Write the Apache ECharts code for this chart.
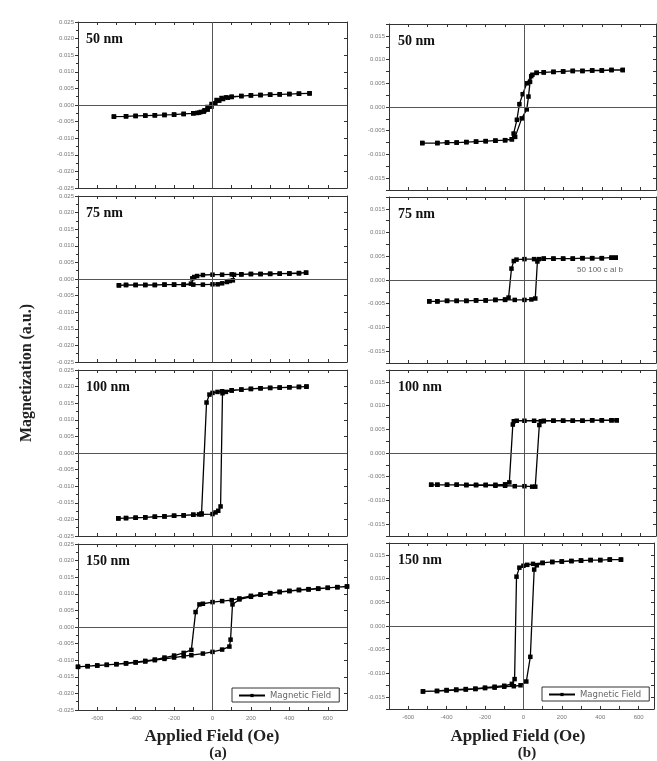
<!DOCTYPE html>
<html>
<head>
<meta charset="utf-8">
<script src="https://cdn.jsdelivr.net/npm/echarts@6/dist/echarts.min.js"></script>
<style>
  html, body { margin: 0; padding: 0; background: #fff; }
  #chart { width: 657px; height: 761px; }
</style>
</head>
<body>
<div id="chart"></div>
<script>
// each loop: field swept down from +H to -H, then back up (Oe, a.u.)
const a50H = [505, 450, 400, 350, 300, 250, 200, 150, 100, 70, 47, 21, -5, -26, -42, -60, -80, -100, -150, -200, -250, -300, -350, -400, -450, -513,
              -513, -450, -400, -350, -300, -250, -200, -150, -100, -70, -45, -25, -5, 15, 35, 55, 80, 100, 150, 200, 250, 300, 350, 400, 450, 505];
const a50M = [0.0035, 0.0034, 0.0033, 0.0032, 0.0031, 0.0030, 0.0029, 0.0027, 0.0025, 0.0023, 0.0021, 0.0015, 0.0003, -0.0006, -0.0016, -0.0021, -0.0024, -0.0025, -0.0027, -0.0029, -0.0030, -0.0031, -0.0032, -0.0033, -0.0034, -0.0035,
              -0.0035, -0.0034, -0.0033, -0.0032, -0.0031, -0.0030, -0.0029, -0.0027, -0.0025, -0.0023, -0.0020, -0.0014, -0.0005, 0.0005, 0.0013, 0.0018, 0.0022, 0.0024, 0.0027, 0.0029, 0.0030, 0.0031, 0.0032, 0.0033, 0.0034, 0.0035];

const a75H = [487, 450, 400, 350, 300, 250, 200, 150, 100, 50, 0, -50, -80, -95, -105, -112, -150, -200, -250, -300, -350, -400, -450, -487,
              -487, -450, -400, -350, -300, -250, -200, -150, -100, -50, 0, 27, 50, 75, 90, 106, 112, 150, 200, 250, 300, 350, 400, 450, 487];
const a75M = [0.0019, 0.0017, 0.0016, 0.0016, 0.0015, 0.0015, 0.0015, 0.0014, 0.0014, 0.0013, 0.0013, 0.0012, 0.0009, 0.0006, 0.0002, -0.0014, -0.0017, -0.0017, -0.0017, -0.0018, -0.0018, -0.0018, -0.0018, -0.0019,
              -0.0019, -0.0018, -0.0018, -0.0018, -0.0018, -0.0017, -0.0017, -0.0017, -0.0017, -0.0017, -0.0016, -0.0016, -0.0013, -0.0009, -0.0006, -0.0004, 0.0013, 0.0014, 0.0015, 0.0015, 0.0016, 0.0016, 0.0017, 0.0018, 0.0019];

const a100H = [489, 450, 400, 350, 300, 250, 200, 150, 100, 50, 26, 0, -16, -31, -57, -70, -100, -150, -200, -250, -300, -350, -400, -450, -490,
               -490, -450, -400, -350, -300, -250, -200, -150, -100, -57, 0, 16, 30, 42, 52, 70, 100, 150, 200, 250, 300, 350, 400, 450, 489];
const a100M = [0.0200, 0.0199, 0.0198, 0.0197, 0.0196, 0.0195, 0.0193, 0.0191, 0.0189, 0.0186, 0.0184, 0.0181, 0.0176, 0.0152, -0.0182, -0.0185, -0.0186, -0.0188, -0.0189, -0.0191, -0.0192, -0.0194, -0.0195, -0.0196, -0.0197,
               -0.0197, -0.0196, -0.0195, -0.0194, -0.0192, -0.0191, -0.0189, -0.0188, -0.0186, -0.0185, -0.0184, -0.0179, -0.0174, -0.0161, 0.0180, 0.0184, 0.0188, 0.0191, 0.0193, 0.0195, 0.0196, 0.0197, 0.0198, 0.0199, 0.0200];

const a150H = [700, 650, 600, 550, 500, 450, 400, 350, 300, 250, 200, 140, 100, 50, 0, -50, -68, -88, -110, -150, -200, -250, -300, -350, -400, -450, -500, -550, -600, -650, -700,
               -700, -650, -600, -550, -500, -450, -400, -350, -300, -250, -200, -150, -110, -50, 0, 50, 88, 94, 104, 140, 200, 250, 300, 350, 400, 450, 500, 550, 600, 650, 700];
const a150M = [0.0122, 0.0120, 0.0118, 0.0116, 0.0114, 0.0112, 0.0109, 0.0106, 0.0102, 0.0098, 0.0094, 0.0086, 0.0081, 0.0078, 0.0075, 0.0070, 0.0068, 0.0045, -0.0069, -0.0078, -0.0086, -0.0092, -0.0098, -0.0102, -0.0106, -0.0109, -0.0112, -0.0114, -0.0116, -0.0118, -0.0120,
               -0.0120, -0.0118, -0.0116, -0.0114, -0.0112, -0.0110, -0.0107, -0.0104, -0.0100, -0.0096, -0.0092, -0.0088, -0.0085, -0.0080, -0.0075, -0.0068, -0.0059, -0.0038, 0.0068, 0.0083, 0.0091, 0.0097, 0.0101, 0.0105, 0.0108, 0.0111, 0.0113, 0.0115, 0.0118, 0.0120, 0.0122];

const b50H = [508, 450, 400, 350, 300, 250, 200, 150, 100, 63, 35, 12, -9, -26, -39, -56, -65, -100, -150, -200, -250, -300, -350, -400, -450, -528,
              -528, -450, -400, -350, -300, -250, -200, -150, -100, -65, -48, -14, 12, 21, 29, 41, 63, 100, 150, 200, 250, 300, 350, 400, 450, 508];
const b50M = [0.0078, 0.0078, 0.0077, 0.0077, 0.0076, 0.0076, 0.0075, 0.0074, 0.0073, 0.0072, 0.0065, 0.0050, 0.0027, 0.0006, -0.0027, -0.0056, -0.0068, -0.0070, -0.0071, -0.0072, -0.0073, -0.0074, -0.0075, -0.0075, -0.0076, -0.0076,
              -0.0076, -0.0076, -0.0075, -0.0075, -0.0074, -0.0073, -0.0072, -0.0071, -0.0070, -0.0068, -0.0063, -0.0024, -0.0005, 0.0022, 0.0053, 0.0068, 0.0072, 0.0073, 0.0074, 0.0075, 0.0076, 0.0076, 0.0077, 0.0077, 0.0078, 0.0078];

const b75H = [472, 450, 400, 350, 300, 250, 200, 150, 100, 50, 0, -41, -55, -67, -82, -100, -150, -200, -250, -300, -350, -400, -450, -492,
              -492, -450, -400, -350, -300, -250, -200, -150, -100, -50, 0, 36, 56, 67, 75, 100, 150, 200, 250, 300, 350, 400, 450, 472];
const b75M = [0.0047, 0.0047, 0.0046, 0.0046, 0.0046, 0.0045, 0.0045, 0.0045, 0.0045, 0.0044, 0.0044, 0.0043, 0.0040, 0.0024, -0.0037, -0.0041, -0.0042, -0.0043, -0.0043, -0.0044, -0.0044, -0.0044, -0.0045, -0.0045,
              -0.0045, -0.0045, -0.0044, -0.0044, -0.0044, -0.0043, -0.0043, -0.0042, -0.0042, -0.0042, -0.0042, -0.0041, -0.0039, 0.0039, 0.0044, 0.0045, 0.0045, 0.0045, 0.0045, 0.0046, 0.0046, 0.0046, 0.0047, 0.0047];

const b100H = [477, 450, 400, 350, 300, 250, 200, 150, 100, 50, 0, -40, -55, -60, -78, -100, -150, -200, -250, -300, -350, -400, -450, -482,
               -482, -450, -400, -350, -300, -250, -200, -150, -100, -50, 0, 40, 56, 77, 85, 100, 150, 200, 250, 300, 350, 400, 450, 477];
const b100M = [0.0069, 0.0069, 0.0069, 0.0069, 0.0068, 0.0068, 0.0068, 0.0068, 0.0068, 0.0068, 0.0068, 0.0068, 0.0067, 0.0060, -0.0062, -0.0066, -0.0067, -0.0067, -0.0067, -0.0067, -0.0067, -0.0067, -0.0067, -0.0067,
               -0.0067, -0.0067, -0.0067, -0.0067, -0.0068, -0.0068, -0.0068, -0.0069, -0.0069, -0.0070, -0.0070, -0.0071, -0.0071, 0.0059, 0.0067, 0.0067, 0.0068, 0.0068, 0.0068, 0.0068, 0.0069, 0.0069, 0.0069, 0.0069];

const b150H = [508, 450, 400, 350, 300, 250, 200, 150, 100, 50, 20, 0, -21, -36, -46, -60, -100, -150, -200, -250, -300, -350, -400, -450, -523,
               -523, -450, -400, -350, -300, -250, -200, -150, -100, -50, -15, 15, 36, 56, 70, 100, 150, 200, 250, 300, 350, 400, 450, 508];
const b150M = [0.0140, 0.0140, 0.0139, 0.0139, 0.0138, 0.0137, 0.0136, 0.0135, 0.0133, 0.0131, 0.0129, 0.0127, 0.0123, 0.0104, -0.0112, -0.0122, -0.0126, -0.0128, -0.0130, -0.0132, -0.0133, -0.0134, -0.0135, -0.0137, -0.0138,
               -0.0138, -0.0137, -0.0136, -0.0135, -0.0134, -0.0133, -0.0131, -0.0130, -0.0128, -0.0127, -0.0125, -0.0117, -0.0065, 0.0119, 0.0128, 0.0133, 0.0135, 0.0136, 0.0137, 0.0138, 0.0139, 0.0139, 0.0140, 0.0140];

const sizeLabels = ["50 nm", "75 nm", "100 nm", "150 nm"];
const fieldTicks = [-600, -400, -200, 0, 200, 400, 600];
const seriesName = "Magnetic Field";

const panels = [
    { h: a50H, m: a50M }, { h: a75H, m: a75M }, { h: a100H, m: a100M }, { h: a150H, m: a150M },
    { h: b50H, m: b50M }, { h: b75H, m: b75M }, { h: b100H, m: b100M }, { h: b150H, m: b150M },
];

const colLeft = [78, 389];
const colWidth = [269, 267];
const rowTop = [[22, 196, 370, 544], [24, 197, 370, 543]];
const rowH = 166;
const xMax = [700, 680];
const serif = '"Liberation Serif", "DejaVu Serif", serif';

const grid = [], xAxis = [], yAxis = [], series = [], graphic = [];

const axisBase = {
    axisLine: { show: true, onZero: false, lineStyle: { color: "#333", width: 1 } },
    splitLine: { show: false },
};

panels.forEach((p, i) => {
    const col = Math.floor(i / 4);
    const row = i % 4;
    const top = rowTop[col][row];
    grid.push({ left: colLeft[col], top: top, width: colWidth[col], height: rowH });

    const xCommon = { type: "value", gridIndex: i, min: -700, max: xMax[col], interval: 100, ...axisBase };
    xAxis.push({
        ...xCommon, position: "bottom",
        axisTick: { show: true, inside: true, length: 3, lineStyle: { color: "#333" } },
        axisLabel: {
            show: row === 3, fontSize: 6, color: "#777", margin: 5,
            formatter: (v) => fieldTicks.includes(v) ? String(v) : "",
        },
    });
    xAxis.push({
        ...xCommon, position: "top",
        axisTick: { show: true, inside: true, length: 3, lineStyle: { color: "#333" } },
        axisLabel: { show: false },
    });

    const yRange = col === 0 ? { min: -0.025, max: 0.025, interval: 0.005 } : { min: -0.0175, max: 0.0175, interval: 0.0025 };
    yAxis.push({
        type: "value", gridIndex: i, position: "left", ...yRange, ...axisBase,
        axisTick: { show: true, inside: false, length: 3, lineStyle: { color: "#333" } },
        minorTick: { show: col === 0, splitNumber: 2, length: 2, lineStyle: { color: "#333" } },
        axisLabel: {
            fontSize: 6, color: "#777", margin: 4,
            formatter: (v) => {
                if (Math.abs(v) < 1e-9) return "0.000";
                const k = Math.round(v * 1000);
                return k % 5 === 0 ? v.toFixed(3) : "";
            },
        },
    });
    yAxis.push({
        type: "value", gridIndex: i, position: "right", ...yRange, ...axisBase,
        axisTick: { show: true, inside: true, length: 3, lineStyle: { color: "#333" } },
        axisLabel: { show: false },
    });

    series.push({
        type: "line",
        name: row === 3 ? seriesName : "loop" + i,
        xAxisIndex: 2 * i,
        yAxisIndex: 2 * i,
        data: p.h.map((h, k) => [h, p.m[k]]),
        symbol: "rect",
        symbolSize: 4.5,
        showAllSymbol: true,
        lineStyle: { color: "#000", width: 1.3 },
        itemStyle: { color: "#000" },
        animation: false,
        markLine: {
            silent: true,
            symbol: ["none", "none"],
            label: { show: false },
            lineStyle: { color: "#555", type: "solid", width: 1 },
            data: [{ xAxis: 0 }, { yAxis: 0 }],
            animation: false,
        },
        z: 3,
    });

    graphic.push({
        type: "text",
        left: col === 0 ? 86 : 398,
        top: top + 10,
        style: { text: sizeLabels[row], font: "bold 14px " + serif, fill: "#111" },
    });
});

graphic.push(
    {
        type: "text", x: 27, y: 373, rotation: Math.PI / 2,
        style: { text: "Magnetization (a.u.)", font: "bold 16px " + serif, fill: "#222", align: "center", verticalAlign: "middle" },
    },
    {
        type: "text", x: 212, y: 737,
        style: { text: "Applied Field (Oe)", font: "bold 17px " + serif, fill: "#222", align: "center", verticalAlign: "middle" },
    },
    {
        type: "text", x: 518, y: 737,
        style: { text: "Applied Field (Oe)", font: "bold 17px " + serif, fill: "#222", align: "center", verticalAlign: "middle" },
    },
    {
        type: "text", x: 218, y: 753,
        style: { text: "(a)", font: "bold 15px " + serif, fill: "#222", align: "center", verticalAlign: "middle" },
    },
    {
        type: "text", x: 527, y: 753,
        style: { text: "(b)", font: "bold 15px " + serif, fill: "#222", align: "center", verticalAlign: "middle" },
    },
    {
        type: "text", x: 600, y: 270,
        style: { text: "50 100 c al b", font: "8px sans-serif", fill: "#666", align: "center", verticalAlign: "middle" },
    }
);

const legendBase = {
    data: [seriesName],
    orient: "horizontal",
    borderColor: "#333",
    borderWidth: 1,
    borderRadius: 0,
    padding: [3, 8, 2, 6],
    itemWidth: 26,
    itemHeight: 4,
    itemGap: 4,
    textStyle: { fontSize: 8.5, color: "#666", fontFamily: "DejaVu Sans" },
    selectedMode: false,
};

const chart = echarts.init(document.getElementById("chart"), null, { renderer: "canvas" });
chart.setOption({
    backgroundColor: "#fff",
    animation: false,
    grid: grid,
    xAxis: xAxis,
    yAxis: yAxis,
    series: series,
    graphic: graphic,
    legend: [
        { ...legendBase, left: 232, top: 688 },
        { ...legendBase, left: 542, top: 687 },
    ],
});
window.addEventListener("resize", () => chart.resize());
</script>
</body>
</html>
